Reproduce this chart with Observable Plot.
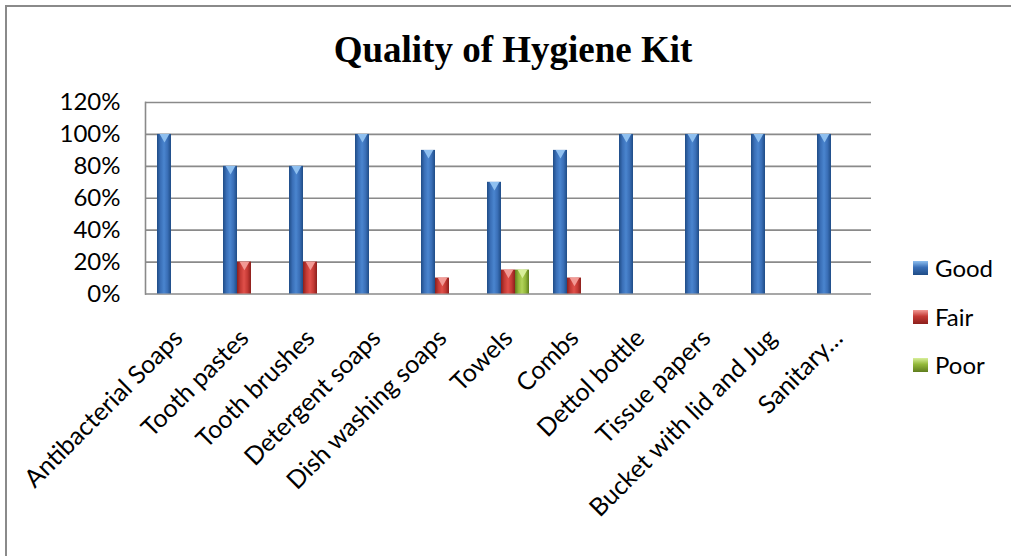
<!DOCTYPE html>
<html>
<head>
<meta charset="utf-8">
<script src="https://cdn.jsdelivr.net/npm/d3@7"></script>
<script src="https://cdn.jsdelivr.net/npm/@observablehq/plot@0.6"></script>
<style>
  html, body { margin: 0; padding: 0; background: #fff; overflow: hidden; }
  #wrap { position: relative; width: 1011px; height: 556px; overflow: hidden; background: #fff; }
  #bTop { position: absolute; left: 5px; top: 5px; width: 1006px; height: 2px; background: #8a8a8a; }
  #bLeft { position: absolute; left: 5px; top: 5px; width: 2px; height: 551px; background: #8a8a8a; }
  #title { position: absolute; left: 0; width: 1026px; top: 31px; line-height: 37px; text-align: center;
           font-family: "Liberation Serif", "Times New Roman", serif; font-weight: bold; font-size: 37px; color: #000; }
  #chart { position: absolute; left: 0; top: 80px; }
  .leg { position: absolute; left: 913px; font-family: Lato, sans-serif; font-size: 24px; line-height: 24px; color: #000;
         display: flex; align-items: center; }
  .leg i { display: inline-block; width: 15px; height: 14px; margin-right: 7px; }
</style>
</head>
<body>
<div id="wrap">
  <div id="bTop"></div>
  <div id="bLeft"></div>
  <div id="title">Quality of Hygiene Kit</div>
  <div id="chart"></div>
  <div id="legend"></div>
</div>
<script>
const categories = ["Antibacterial Soaps", "Tooth pastes", "Tooth brushes", "Detergent soaps", "Dish washing soaps",
  "Towels", "Combs", "Dettol bottle", "Tissue papers", "Bucket with lid and Jug", "Sanitary…"];
const series = ["Good", "Fair", "Poor"];
const good = [1.00, 0.80, 0.80, 1.00, 0.90, 0.70, 0.90, 1.00, 1.00, 1.00, 1.00];
const fair = [0, 0.20, 0.20, 0, 0.10, 0.15, 0.10, 0, 0, 0, 0];
const poor = [0, 0, 0, 0, 0, 0.15, 0, 0, 0, 0, 0];
const yTicks = [0, 0.2, 0.4, 0.6, 0.8, 1.0, 1.2];

const seriesValues = [good, fair, poor];
const palette = {
  Good: {edge: "#1f4c86", mid: "#4a85cf", main: "#3a6fb7", top: "#8fc0f0"},
  Fair: {edge: "#8c1f1c", mid: "#e0504a", main: "#c43a35", top: "#f29a95"},
  Poor: {edge: "#5f7d1e", mid: "#b2d35a", main: "#93b83a", top: "#d8ef9a"}
};

const table = categories.flatMap((c, i) => series.map((s, j) => ({category: c, series: s, value: seriesValues[j][i]})));
const nonzero = table.filter(d => d.value > 0);

const plot = Plot.plot({
  width: 1011,
  height: 476,
  marginTop: 22,
  marginBottom: 262.5,
  marginLeft: 144,
  marginRight: 139,
  style: {fontFamily: "Lato, sans-serif", fontSize: "24px", color: "#000", background: "transparent", overflow: "visible"},
  fx: {domain: categories, padding: 0, label: null, tickRotate: -45, tickSize: 0, tickPadding: 40},
  x: {domain: series, paddingInner: 0, paddingOuter: 0.78, axis: null},
  y: {domain: [0, 1.2], ticks: yTicks, tickFormat: d3.format(".0%"), tickSize: 0, tickPadding: 25, label: null},
  color: {domain: series, range: series.map(s => `url(#g${s})`)},
  marks: [
    Plot.ruleY(yTicks, {stroke: "#8a8a8a", strokeWidth: 1.6}),
    Plot.frame({anchor: "left", facetAnchor: "left", stroke: "#8a8a8a", strokeWidth: 1.6}),
    Plot.barY(nonzero, {fx: "category", x: "series", y: "value", fill: "series"}),
    ...series.map(s => Plot.dot(nonzero.filter(d => d.series === s), {
      fx: "category", x: "series", y: "value", symbol: "triangle", rotate: 180, r: 3.6, dy: 2.5,
      fill: palette[s].top, stroke: "none"
    }))
  ]
});

// enlarge the category labels slightly
d3.select(plot).selectAll("[aria-label='fx-axis tick label']").attr("font-size", 25);

// gradients for the cylindrical bar shading
const defs = d3.create("svg:defs");
for (const s of series) {
  const p = palette[s];
  const g = defs.append("linearGradient").attr("id", `g${s}`).attr("x1", 0).attr("x2", 1).attr("y1", 0).attr("y2", 0);
  g.append("stop").attr("offset", "0%").attr("stop-color", p.edge);
  g.append("stop").attr("offset", "25%").attr("stop-color", p.main);
  g.append("stop").attr("offset", "50%").attr("stop-color", p.mid);
  g.append("stop").attr("offset", "75%").attr("stop-color", p.main);
  g.append("stop").attr("offset", "100%").attr("stop-color", p.edge);
}
plot.insertBefore(defs.node(), plot.firstChild);
document.getElementById("chart").appendChild(plot);

// legend
const legendTops = {Good: 256, Fair: 305, Poor: 353};
const legend = document.getElementById("legend");
for (const s of series) {
  const d = document.createElement("div");
  d.className = "leg";
  d.style.top = legendTops[s] + "px";
  const sw = document.createElement("i");
  sw.style.background = `linear-gradient(to bottom, ${palette[s].top}, ${palette[s].main} 45%, ${palette[s].edge})`;
  d.appendChild(sw);
  d.appendChild(document.createTextNode(s));
  legend.appendChild(d);
}
</script>
</body>
</html>
